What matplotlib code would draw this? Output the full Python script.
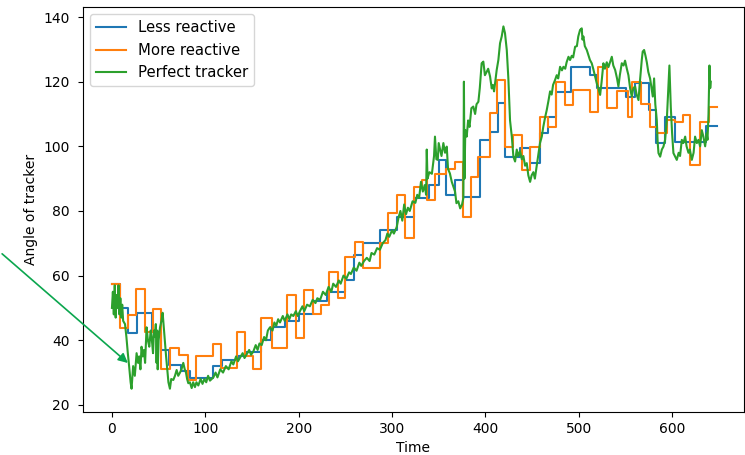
import matplotlib
matplotlib.use("Agg")
import matplotlib.pyplot as plt

# step outputs: start time of each step, value held until next start (last entry = end)
less_t = [0, 9, 17.5, 26.4, 42.5, 53, 60.7, 73.5, 83.6, 108, 118, 135, 144, 160, 170,
          185, 200, 215, 230, 250, 259, 269, 287, 305, 323, 340, 350, 358, 367, 376,
          394, 405, 413, 421, 437, 448, 459, 467, 476, 492, 512, 520, 551, 560, 575,
          583, 592, 603, 636, 648]
less_v = [57.4, 50, 42.2, 48.5, 42.7, 37, 32.4, 30.5, 28.3, 31.9, 33.9, 35, 36.5, 40, 44,
          46, 48, 52, 55, 58.7, 66.4, 70, 74, 78.2, 84, 88, 95.8, 85, 89.6, 84.4,
          102, 104.5, 113.3, 96.8, 99.4, 94.8, 104, 109.2, 116.9, 124.5, 122, 118, 115.4, 119.5, 111.2,
          101, 109.2, 101.4, 106.2, 106.2]

more_t = [0, 9, 17, 26, 35, 44, 53, 62, 72, 82, 90, 108, 117, 134, 143, 151, 160, 171,
          187, 197, 206, 215, 224, 233, 242, 250, 260, 269, 287, 296, 305, 314, 323, 332,
          337, 346, 358, 367, 376, 385, 392, 405, 412, 421, 430, 439, 448, 458, 467, 476,
          485, 494, 512, 521, 530, 541, 553, 557, 567, 576, 584, 594, 603, 612, 619, 630,
          639, 648]
more_v = [57.4, 43.8, 47.8, 55.8, 42.5, 49.6, 31, 37.5, 35.5, 27.7, 35.2, 38.9, 31.4, 42.5, 35, 31, 46.8, 37.5,
          54, 40.6, 55.6, 48, 51, 61.2, 53, 65.9, 70.5, 62.5, 70, 79.3, 85, 71.6, 87.5, 89.6,
          83.5, 91.5, 93, 95.3, 78.2, 90.6, 96.8, 110.2, 120.5, 99.9, 103.5, 92.7, 99.9, 109.2, 106.1, 120,
          112.8, 117.5, 110.5, 124.6, 111.8, 117, 109.2, 120, 113, 106, 104, 108, 107.6, 109.7, 94.2, 107.6,
          112.3, 112.3]

perfect_t = [0, 1, 2, 3, 4, 5, 6, 7, 8, 9, 10, 11, 12, 14, 15.5, 17, 18.4, 20, 21, 22.7,
             24.5, 26.4, 28, 29.2, 30.5, 31.7, 33, 34.3, 35.5, 37.1, 38.5, 40, 41.5, 42.5, 44, 45,
             46, 47, 47.8, 48.5, 49, 50, 51.5, 53, 54.3, 55.5, 56.8, 58, 59.3, 60.5, 62.1, 63.5,
             65.7, 67.5, 69.3, 71, 72.9, 74.5, 76.4, 78, 79.3, 80.5, 81.8, 83.5, 85.4, 87, 88.9,
             90.5, 92.5, 95, 97, 99, 101, 103, 105, 108.6, 111, 113, 116, 119, 122, 125, 128,
             130, 133, 135, 137, 140, 142, 144, 147, 149, 151.4, 154, 156, 158, 160.4, 163, 165,
             167, 169.3, 172, 174, 176, 178, 180, 183, 185, 188, 190, 192, 194.3, 197, 199,
             201.4, 204, 206, 209, 212, 215, 218, 220, 223, 226, 229, 232, 235, 237, 240, 243,
             245, 248, 251, 254, 256, 259, 262, 265, 267, 270, 273, 276, 278, 281, 284, 287,
             290, 293, 295, 297, 300, 302, 305, 307, 309, 311, 313, 315, 317, 319, 322, 325,
             327, 329, 331, 333, 335, 336.5, 337.2, 338, 340, 342.7, 345, 346, 347.5, 349, 350,
             351.5, 353, 355, 356.8, 358.6, 360, 362, 364, 365.7, 367.5, 369, 371, 373, 375,
             376.4, 377, 377.6, 378.5, 380, 381.5, 383, 385, 387, 389, 390.5, 392.5, 394, 396,
             397.8, 399.5, 401.5, 403, 405, 406.8, 408, 409.3, 411, 412.1, 413.9, 415.7, 417.5,
             419.3, 421, 422.9, 424.6, 426.4, 428.3, 430, 431.8, 433.6, 435, 437.1, 439, 440.7,
             442.5, 444.3, 446, 447.9, 449.5, 451.4, 453, 455, 457, 458.5, 460.4, 462, 464,
             465.7, 467.5, 469.3, 471, 472.5, 474.6, 476.4, 478, 480, 482, 483.6, 485.5, 487,
             489, 490.7, 492.5, 494, 496.1, 498, 499.5, 501.4, 503.2, 504, 505, 506.5, 508.6,
             510, 512, 513.9, 515.5, 517.5, 519.3, 521, 522.9, 524.5, 526.4, 528, 530, 531.8,
             533.5, 535.4, 537, 539, 541, 542.5, 544, 546.1, 548, 549.6, 551.5, 553.2, 555,
             556.8, 558.5, 560.4, 562, 564, 565.5, 567.5, 568.5, 570, 571.5, 572.9, 574.5,
             576.4, 578, 579.3, 580.7, 582, 583.6, 584.5, 585.4, 587.2, 589, 590.7, 592.5,
             594.3, 595.5, 597.1, 598.6, 600, 601.4, 603, 605, 607, 608.5, 610.4, 612, 614,
             615.5, 617.5, 619, 621.1, 623, 624.6, 626.5, 628.2, 630, 631.8, 633.5, 635.4, 637,
             637.9, 639, 640, 640.8, 641.4]
perfect_v = [50, 55, 48, 57, 47, 54, 50, 57, 48, 53, 47, 51, 46, 45, 41, 36, 32, 27, 25, 32,
             29, 36, 33, 35, 31, 38, 35, 37, 33, 44, 40, 38, 43, 41, 36, 43,
             41, 45, 33, 43, 31, 40, 44, 46, 48.5, 44, 39, 35, 31, 27, 25, 28,
             27.7, 29, 30.8, 29, 30, 31, 33, 31, 30, 28, 26.7, 27, 25.2, 27, 25.5,
             27, 26, 28, 26.5, 28, 27, 29, 27.5, 28.5, 30, 28.5, 31, 30, 32, 31, 33.5,
             32.5, 35, 33.5, 34.5, 36, 34.5, 35.5, 37, 35.5, 36.5, 38.5, 37, 39, 38.5, 41, 40,
             43, 44, 43, 45.5, 44.5, 46.5, 45.5, 47.5, 46, 48, 46.5, 48, 47.5, 49, 47.5,
             49, 50.5, 49, 51, 50.5, 52.5, 51.5, 53, 52.5, 55, 54, 56.5, 55, 57.5, 56.5, 58.5,
             57.5, 60, 59, 61, 60.5, 62.5, 61.5, 64, 63, 64.5, 65.5, 64.5, 67, 66.5, 68.5, 68,
             70, 71, 73, 72, 74, 73, 75, 78, 80, 77, 82, 79, 81, 80, 83, 82.5,
             85, 84, 89, 86, 88, 85, 99, 90, 92, 91.5, 97, 103, 96, 95.8, 101,
             99, 97, 101, 98, 99.9, 93, 91.6, 89, 87.5, 86, 82.4, 83, 80.8, 82,
             84, 120, 90, 105, 103, 108, 106, 111.8, 112.3, 110, 113, 113.8, 118, 125.7,
             126.2, 122, 123.1, 124, 121.6, 117.9, 119, 117, 121, 123.6, 126.7, 131.9, 134,
             137.1, 135, 129.8, 121, 108, 103, 96.8, 95.3, 99, 97, 98.5, 96, 97,
             94, 94.8, 91, 89, 91, 92, 90, 94, 98, 101, 103, 106, 109,
             111.2, 114, 117, 116, 119, 120.5, 122, 121, 124.6, 123.5, 124.6, 124, 126,
             127.7, 126.7, 128, 127.5, 130.8, 131, 134, 136, 136.5, 133, 134, 131, 129.8,
             128.5, 126.7, 125.7, 124, 121.6, 119.5, 118, 115.9, 120, 125.7, 124, 126, 124.5,
             126, 127.7, 125, 123.6, 121, 118.5, 122, 125.7, 125, 126.5, 124, 122, 118,
             115.4, 118, 118.5, 116, 114.3, 120, 126.7, 129.3, 129.8, 128, 126, 123,
             121, 118, 115.4, 121, 113, 108, 101.4, 97.9, 96.8, 99, 99.9, 102,
             108, 115, 125, 112, 104, 97.9, 97, 95.8, 98, 97, 102, 101, 103,
             100, 98, 99, 95.8, 98, 103, 101, 102, 100, 105, 103, 100, 104,
             102, 110, 125, 118, 120]

fig = plt.figure(figsize=(7.45, 4.55), dpi=100)
ax = fig.add_axes([83 / 745, 43 / 455, 661 / 745, 405 / 455])

ax.step(less_t, less_v, where='post', label='Less reactive')
ax.step(more_t, more_v, where='post', label='More reactive')
ax.plot(perfect_t, perfect_v, label='Perfect tracker')

ax.set_xlim(-31, 677)
ax.set_ylim(17.8, 143.1)
ax.set_xlabel('Time', fontsize=10)
ax.set_ylabel('Angle of tracker', fontsize=10)
ax.tick_params(axis='both', labelsize=10)
ax.tick_params(axis='y', pad=6)
ax.legend(loc='upper left', fontsize=10.7)

# green arrow coming in from the left edge of the figure
ax.annotate('', xy=(19.3, 32.4), xytext=(0, 455 - 252), textcoords='figure pixels',
            arrowprops=dict(arrowstyle='-|>', color='#0ba64e', lw=1.2, mutation_scale=14),
            annotation_clip=False)

fig.savefig('out.png', dpi=100)
plt.close()
